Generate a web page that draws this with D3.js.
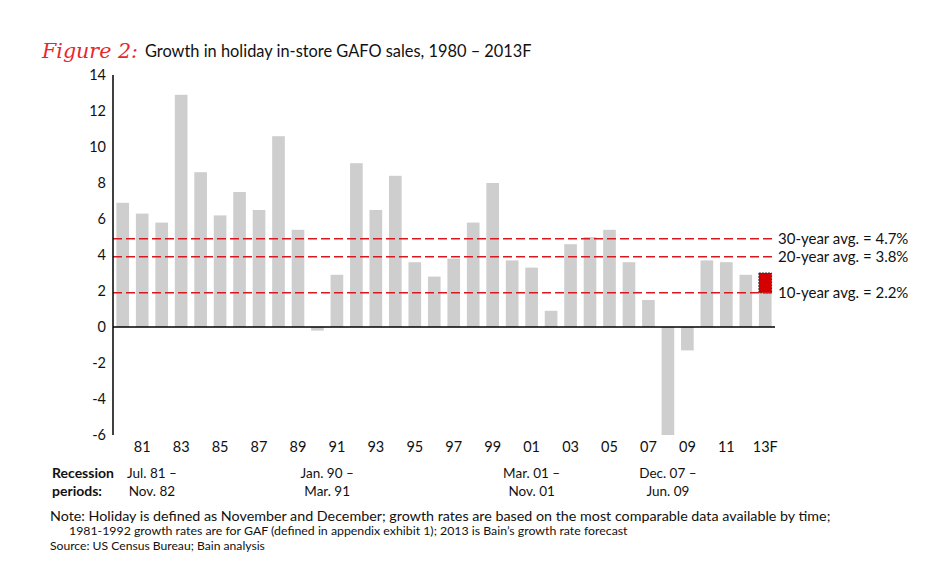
<!DOCTYPE html>
<html>
<head>
<meta charset="utf-8">
<script src="https://cdn.jsdelivr.net/npm/d3@7"></script>
<style>
  html, body { margin: 0; padding: 0; background: #fff; }
  svg { display: block; font-family: "Lato", "DejaVu Sans", sans-serif; }
</style>
</head>
<body>
<svg id="chart" width="950" height="579"></svg>
<script>
// ---------------- data ----------------
const years = ["1980","1981","1982","1983","1984","1985","1986","1987","1988","1989",
               "1990","1991","1992","1993","1994","1995","1996","1997","1998","1999",
               "2000","2001","2002","2003","2004","2005","2006","2007","2008","2009",
               "2010","2011","2012","2013"];
const growth = [6.9, 6.3, 5.8, 12.9, 8.6, 6.2, 7.5, 6.5, 10.6, 5.4,
                -0.2, 2.9, 9.1, 6.5, 8.4, 3.6, 2.8, 3.8, 5.8, 8.0,
                3.7, 3.3, 0.9, 4.6, 5.0, 5.4, 3.6, 1.5, -6.0, -1.3,
                3.7, 3.6, 2.9, 1.9];
const forecastYear = "2013";
const forecastRange = [1.9, 3.0];
const xTickYears = ["1981","1983","1985","1987","1989","1991","1993","1995","1997","1999",
                    "2001","2003","2005","2007","2009","2011","2013"];
const xTickLabels = ["81","83","85","87","89","91","93","95","97","99",
                     "01","03","05","07","09","11","13F"];
const yTicks = [-6, -4, -2, 0, 2, 4, 6, 8, 10, 12, 14];
const avgNames = ["30-year avg.", "20-year avg.", "10-year avg."];
const avgValues = [4.7, 3.8, 2.2];
const avgLineLevels = [4.9, 3.9, 1.9];
const recessionStartYears = ["1981", "1990", "2001", "2007"];
const recessionEndYears = ["1982", "1991", "2001", "2009"];
const recessionStartLabels = ["Jul. 81 \u2013", "Jan. 90 \u2013", "Mar. 01 \u2013", "Dec. 07 \u2013"];
const recessionEndLabels = ["Nov. 82", "Mar. 91", "Nov. 01", "Jun. 09"];
const noteLines = [
  "Note: Holiday is defined as November and December; growth rates are based on the most comparable data available by time;",
  "1981-1992 growth rates are for GAF (defined in appendix exhibit 1); 2013 is Bain\u2019s growth rate forecast"
];
const sourceLine = "Source: US Census Bureau; Bain analysis";

// ---------------- layout ----------------
const svg = d3.select("#chart");
const x = d3.scaleBand().domain(years).range([113, 775]).paddingInner(0.35).paddingOuter(0.175);
const y = d3.scaleLinear().domain([-6, 14]).range([435, 75]);
const TEXT = "#111";

function fit(sel, width) {
  const n = sel.node();
  const fs = parseFloat(sel.attr("font-size"));
  const w = n.getComputedTextLength();
  if (w > 0) sel.attr("font-size", (fs * width / w).toFixed(2));
  return sel;
}

// title
fit(svg.append("text").attr("x", 42).attr("y", 58)
  .attr("font-family", "'DejaVu Serif', serif").attr("font-style", "italic")
  .attr("font-size", 22).attr("fill", "#e8262d").text("Figure 2:"), 96);
fit(svg.append("text").attr("x", 145).attr("y", 57).attr("font-size", 18).attr("fill", TEXT)
  .text("Growth in holiday in-store GAFO sales, 1980 \u2013 2013F"), 387);

// bars
svg.append("g").selectAll("rect").data(years).join("rect")
  .attr("x", d => x(d))
  .attr("width", x.bandwidth())
  .attr("y", (d, i) => y(Math.max(0, growth[i])))
  .attr("height", (d, i) => Math.abs(y(growth[i]) - y(0)))
  .attr("fill", "#cecece");

// forecast range box
svg.append("rect")
  .attr("x", x(forecastYear)).attr("width", x.bandwidth())
  .attr("y", y(forecastRange[1])).attr("height", y(forecastRange[0]) - y(forecastRange[1]))
  .attr("fill", "#d40000").attr("stroke", "#333").attr("stroke-width", 1)
  .attr("stroke-dasharray", "2,1");

// average lines
const avgG = svg.append("g");
avgLineLevels.forEach((v, i) => {
  avgG.append("line").attr("x1", 113).attr("x2", 772)
    .attr("y1", y(v)).attr("y2", y(v))
    .attr("stroke", "#d7191f").attr("stroke-width", 1.4)
    .attr("stroke-dasharray", "9,4");
  avgG.append("text").attr("x", 778).attr("y", y(v)).attr("dy", "0.35em")
    .attr("font-size", 15).attr("fill", TEXT)
    .text(avgNames[i] + " = " + avgValues[i].toFixed(1) + "%");
});

// axes
svg.append("line").attr("x1", 113).attr("x2", 113).attr("y1", y(14)).attr("y2", y(-6))
  .attr("stroke", "#000").attr("stroke-width", 1.5);
svg.append("line").attr("x1", 113).attr("x2", 775).attr("y1", y(0)).attr("y2", y(0))
  .attr("stroke", "#000").attr("stroke-width", 1.5);

const yAxis = d3.axisLeft(y).tickValues(yTicks).tickSize(0).tickPadding(0)
  .tickFormat(d => d);
const yg = svg.append("g").attr("transform", "translate(106,0)").call(yAxis);
yg.select(".domain").remove();
yg.selectAll("text").attr("font-size", 14.5).attr("fill", TEXT).attr("font-family", "Lato");

const xAxis = d3.axisBottom(x).tickValues(xTickYears).tickSize(0).tickPadding(0)
  .tickFormat(d => xTickLabels[xTickYears.indexOf(d)]);
const xg = svg.append("g").attr("transform", "translate(0,442)").call(xAxis);
xg.select(".domain").remove();
xg.selectAll("text").attr("font-size", 14.5).attr("fill", TEXT).attr("font-family", "Lato");

// recession periods
svg.append("text").attr("x", 52).attr("y", 478).attr("font-size", 14).attr("font-weight", "bold")
  .attr("fill", TEXT).text("Recession");
svg.append("text").attr("x", 52).attr("y", 496).attr("font-size", 14).attr("font-weight", "bold")
  .attr("fill", TEXT).text("periods:");
recessionStartYears.forEach((s, i) => {
  const cx = (x(s) + x(recessionEndYears[i])) / 2 + x.bandwidth() / 2;
  svg.append("text").attr("x", cx).attr("y", 478).attr("text-anchor", "middle")
    .attr("font-size", 13.5).attr("fill", TEXT).text(recessionStartLabels[i]);
  svg.append("text").attr("x", cx).attr("y", 496).attr("text-anchor", "middle")
    .attr("font-size", 13.5).attr("fill", TEXT).text(recessionEndLabels[i]);
});

// notes
fit(svg.append("text").attr("x", 50).attr("y", 521).attr("font-size", 12).attr("fill", TEXT)
  .text(noteLines[0]), 781);
fit(svg.append("text").attr("x", 69).attr("y", 535).attr("font-size", 12).attr("fill", TEXT)
  .text(noteLines[1]), 559);
fit(svg.append("text").attr("x", 50).attr("y", 550).attr("font-size", 12).attr("fill", TEXT)
  .text(sourceLine), 215);
</script>
</body>
</html>
